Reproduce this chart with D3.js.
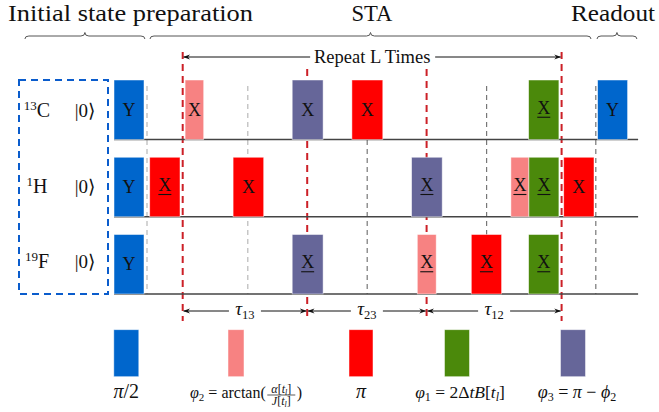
<!DOCTYPE html>
<html>
<head>
<meta charset="utf-8">
<script src="https://cdn.jsdelivr.net/npm/d3@7"></script>
<style>
  html, body { margin: 0; padding: 0; background: #fff; }
  svg { display: block; }
</style>
</head>
<body>
<svg id="chart" width="659" height="412"></svg>
<script>
// Spin channels (isotope mass number + element)
const isotopes = ["13", "1", "19"];
const elements = ["C", "H", "F"];

// Pulses per channel: [start, end, axis, negative phase, kind] in sequence time units
const carbonPulses = [
  [0, 10, "Y", false, "half"],
  [23.7, 29.9, "X", false, "phi2"],
  [59.4, 69.7, "X", false, "phi3"],
  [79.3, 89.6, "X", false, "pi"],
  [138.2, 148.3, "X", true, "phi1"],
  [161.2, 171.2, "Y", false, "half"]
];
const protonPulses = [
  [0, 10, "Y", false, "half"],
  [11.9, 22, "X", true, "pi"],
  [39.7, 49.9, "X", false, "pi"],
  [99.2, 109.4, "X", true, "phi3"],
  [132.3, 138.3, "X", true, "phi2"],
  [138.3, 148.3, "X", true, "phi1"],
  [149.9, 160, "X", false, "pi"]
];
const fluorinePulses = [
  [0, 10, "Y", false, "half"],
  [59.4, 69.7, "X", true, "phi3"],
  [101.1, 107.4, "X", true, "phi2"],
  [119.1, 129.2, "X", true, "pi"],
  [138.2, 148.3, "X", true, "phi1"]
];
const channelPulses = [carbonPulses, protonPulses, fluorinePulses];

// Time marks: block boundaries of the repeated unit, and pulse-centre guides
const blockMarks = [22.9, 64.4, 104.2, 149.2];
const guideMarks = [11, 44.6, 84.4, 124.2, 160.6];
const delayLabels = ["13", "23", "12"];

// Sections of the sequence
const sectionNames = ["Initial state preparation", "STA", "Readout"];
const sectionSpans = [[-29.7, 10.3], [12, 159], [161, 174.3]];

// Pulse kinds and legend
const kinds = ["half", "phi2", "pi", "phi1", "phi3"];
const kindColors = { half: "#0066cc", phi2: "#f78282", pi: "#ff0000", phi1: "#4b890b", phi3: "#666699" };

const serif = "'Liberation Serif', 'DejaVu Serif', 'Times New Roman', serif";
const svg = d3.select("#chart")
  .attr("font-family", serif)
  .attr("fill", "#111");
const x = d3.scaleLinear().domain([0, 175]).range([114, 639]);
const chan = d3.scalePoint().domain(elements).range([139.5, 294]);
const labelY = d3.scalePoint().domain(elements).range([117.3, 267.7]);
const pulseH = 59.5;

// Section titles (set in a wide book face) and braces
const titleX = [130.5, 372, 613];
const titleW = [245, 41, 84];
svg.selectAll("text.section").data(sectionNames).join("text")
  .attr("class", "section")
  .attr("x", (d, i) => titleX[i]).attr("y", 20.5)
  .attr("text-anchor", "middle")
  .attr("font-size", 22.5)
  .attr("textLength", (d, i) => titleW[i]).attr("lengthAdjust", "spacingAndGlyphs")
  .text(d => d);

function bracePath(x1, x2, y) {
  const m = (x1 + x2) / 2, r = 4;
  return `M${x1},${y + 3} Q${x1},${y} ${x1 + r},${y} L${m - r},${y} Q${m},${y} ${m},${y - 3.5}` +
         ` Q${m},${y} ${m + r},${y} L${x2 - r},${y} Q${x2},${y} ${x2},${y + 3}`;
}
svg.selectAll("path.brace").data(sectionSpans).join("path")
  .attr("class", "brace")
  .attr("d", d => bracePath(x(d[0]), x(d[1]), 36))
  .attr("fill", "none").attr("stroke", "#555").attr("stroke-width", 1);

// Arrow markers
const defs = svg.append("defs");
defs.append("marker").attr("id", "arrow").attr("viewBox", "0 0 10 10")
  .attr("refX", 9).attr("refY", 5).attr("markerWidth", 7).attr("markerHeight", 7)
  .attr("orient", "auto-start-reverse").attr("markerUnits", "userSpaceOnUse")
  .append("path").attr("d", "M0,1.5 L10,5 L0,8.5 L3,5 Z").attr("fill", "#111");

// Guide lines (behind the pulses)
svg.selectAll("line.guide").data(guideMarks).join("line")
  .attr("class", "guide")
  .attr("x1", d => x(d)).attr("x2", d => x(d))
  .attr("y1", 86).attr("y2", chan("F"))
  .attr("stroke", (d, i) => i < 2 ? "#b8b8b8" : "#777")
  .attr("stroke-width", 1.2).attr("stroke-dasharray", "5,4");

// Block boundaries (outer ones reach up to the repeat arrow)
svg.selectAll("line.block").data(blockMarks).join("line")
  .attr("class", "block")
  .attr("x1", d => x(d)).attr("x2", d => x(d))
  .attr("y1", (d, i) => (i === 0 || i === blockMarks.length - 1) ? 52 : 69).attr("y2", 321)
  .attr("stroke", "#cc2027").attr("stroke-width", 2)
  .attr("stroke-dasharray", "7,5");

// Baselines
svg.selectAll("line.base").data(elements).join("line")
  .attr("class", "base")
  .attr("x1", x(0)).attr("x2", x(174.7))
  .attr("y1", d => chan(d)).attr("y2", d => chan(d))
  .attr("stroke", "#444").attr("stroke-width", 1.6);

// Pulses
elements.forEach((el, ci) => {
  const g = svg.append("g");
  const base = chan(el);
  const p = g.selectAll("g.pulse").data(channelPulses[ci]).join("g").attr("class", "pulse");
  p.append("rect")
    .attr("x", d => x(d[0])).attr("width", d => x(d[1]) - x(d[0]))
    .attr("y", base - pulseH).attr("height", pulseH)
    .attr("fill", d => kindColors[d[4]])
    .attr("stroke", "rgba(255,255,255,0.6)").attr("stroke-width", 0.8);
  p.append("text")
    .attr("x", d => (x(d[0]) + x(d[1])) / 2)
    .attr("y", d => base - pulseH / 2 + (d[3] ? 4 : 6))
    .attr("text-anchor", "middle").attr("font-size", 18)
    .text(d => d[2]);
  p.filter(d => d[3]).append("line")
    .attr("x1", d => (x(d[0]) + x(d[1])) / 2 - 6.5)
    .attr("x2", d => (x(d[0]) + x(d[1])) / 2 + 6.5)
    .attr("y1", base - pulseH / 2 + 7.5).attr("y2", base - pulseH / 2 + 7.5)
    .attr("stroke", "#111").attr("stroke-width", 1.1);
});

// Repeat arrow
const repeatX = (x(blockMarks[0]) + x(blockMarks[3])) / 2;
svg.append("line")
  .attr("x1", repeatX - 62).attr("x2", x(blockMarks[0]) + 1)
  .attr("y1", 57).attr("y2", 57)
  .attr("stroke", "#111").attr("stroke-width", 1).attr("marker-end", "url(#arrow)");
svg.append("line")
  .attr("x1", repeatX + 63).attr("x2", x(blockMarks[3]) - 1)
  .attr("y1", 57).attr("y2", 57)
  .attr("stroke", "#111").attr("stroke-width", 1).attr("marker-end", "url(#arrow)");
svg.append("text")
  .attr("x", repeatX).attr("y", 62.5)
  .attr("text-anchor", "middle").attr("font-size", 18.5)
  .text("Repeat L Times");

// Delay arrows between block boundaries
const delays = d3.pairs(blockMarks).map((p, i) => ({ a: p[0], b: p[1], lab: delayLabels[i] }));
delays.forEach(d => {
  const xa = x(d.a), xb = x(d.b), m = (xa + xb) / 2;
  svg.append("line").attr("x1", m - 16).attr("x2", xa + 1).attr("y1", 311).attr("y2", 311)
    .attr("stroke", "#111").attr("stroke-width", 1).attr("marker-end", "url(#arrow)");
  svg.append("line").attr("x1", m + 16).attr("x2", xb - 1).attr("y1", 311).attr("y2", 311)
    .attr("stroke", "#111").attr("stroke-width", 1).attr("marker-end", "url(#arrow)");
  const t = svg.append("text").attr("x", m).attr("y", 315).attr("text-anchor", "middle").attr("font-size", 19);
  t.append("tspan").attr("font-style", "italic").text("τ");
  t.append("tspan").attr("font-size", 12.5).attr("dy", 4).text(d.lab);
});

// Initial-state box and channel labels
svg.append("rect")
  .attr("x", 19).attr("y", 80).attr("width", 89).attr("height", 214)
  .attr("fill", "none").attr("stroke", "#0a5ccc").attr("stroke-width", 2)
  .attr("stroke-dasharray", "7,5");

elements.forEach((el, i) => {
  const t = svg.append("text").attr("x", 37).attr("y", labelY(el))
    .attr("text-anchor", "middle").attr("font-size", 20);
  t.append("tspan").attr("font-size", 13).attr("dy", -7).text(isotopes[i]);
  t.append("tspan").attr("dy", 7).text(el);
  svg.append("text").attr("x", 85).attr("y", labelY(el))
    .attr("text-anchor", "middle").attr("font-size", 19)
    .text("|0⟩");
});

// Legend
const legendX = [126.3, 236, 361, 457, 573];
const legendW = [25, 16, 24, 25, 25];
const legendBase = 398;
svg.selectAll("rect.legend").data(kinds).join("rect")
  .attr("class", "legend")
  .attr("x", (d, i) => legendX[i] - legendW[i] / 2).attr("width", (d, i) => legendW[i])
  .attr("y", 329.7).attr("height", 47)
  .attr("fill", d => kindColors[d])
  .attr("stroke", "rgba(255,255,255,0.6)").attr("stroke-width", 0.8);

// π/2
{
  const t = svg.append("text").attr("x", legendX[0]).attr("y", legendBase).attr("text-anchor", "middle").attr("font-size", 20);
  t.append("tspan").attr("font-style", "italic").text("π");
  t.append("tspan").text("/2");
}
// φ2 = arctan(α[t_l]/J[t_l])
{
  const g = svg.append("g");
  const t = g.append("text").attr("x", 190).attr("y", legendBase).attr("font-size", 16);
  t.append("tspan").attr("font-style", "italic").text("φ");
  t.append("tspan").attr("font-size", 11).attr("dy", 2.5).text("2");
  t.append("tspan").attr("dy", -2.5).text(" = arctan(");
  const fx0 = 190 + t.node().getComputedTextLength() + 0.5;
  const fw = 30, fx = fx0 + fw / 2;
  const sub = sym => `<tspan font-style="italic">${sym}</tspan>[<tspan font-style="italic">t</tspan>` +
    `<tspan font-style="italic" font-size="8" dy="2">l</tspan><tspan dy="-2">]</tspan>`;
  g.append("text").attr("x", fx).attr("y", 392.5).attr("text-anchor", "middle").attr("font-size", 12)
    .html(sub("α"));
  g.append("line").attr("x1", fx0 + 1).attr("x2", fx0 + fw - 1).attr("y1", 395).attr("y2", 395)
    .attr("stroke", "#111").attr("stroke-width", 0.7);
  g.append("text").attr("x", fx).attr("y", 405).attr("text-anchor", "middle").attr("font-size", 12)
    .html(sub("J"));
  g.append("text").attr("x", fx0 + fw + 0.5).attr("y", legendBase).attr("font-size", 16).text(")");
}
// π
svg.append("text").attr("x", legendX[2]).attr("y", legendBase).attr("text-anchor", "middle")
  .attr("font-size", 20).attr("font-style", "italic").text("π");
// φ1 = 2ΔtB[t_l]
{
  const t = svg.append("text").attr("x", legendX[3] + 3).attr("y", legendBase).attr("text-anchor", "middle").attr("font-size", 17.5);
  t.append("tspan").attr("font-style", "italic").text("φ");
  t.append("tspan").attr("font-size", 12).attr("dy", 2.5).text("1");
  t.append("tspan").attr("dy", -2.5).text(" = 2Δ");
  t.append("tspan").attr("font-style", "italic").text("tB");
  t.append("tspan").text("[");
  t.append("tspan").attr("font-style", "italic").text("t");
  t.append("tspan").attr("font-style", "italic").attr("font-size", 12).attr("dy", 2.5).text("l");
  t.append("tspan").attr("dy", -2.5).text("]");
}
// φ3 = π − ϕ2
{
  const t = svg.append("text").attr("x", legendX[4] + 4).attr("y", legendBase).attr("text-anchor", "middle").attr("font-size", 18);
  t.append("tspan").attr("font-style", "italic").text("φ");
  t.append("tspan").attr("font-size", 12).attr("dy", 2.5).text("3");
  t.append("tspan").attr("dy", -2.5).text(" = ");
  t.append("tspan").attr("font-style", "italic").text("π");
  t.append("tspan").text(" − ");
  t.append("tspan").attr("font-style", "italic").text("ϕ");
  t.append("tspan").attr("font-size", 12).attr("dy", 2.5).text("2");
}
</script>
</body>
</html>
